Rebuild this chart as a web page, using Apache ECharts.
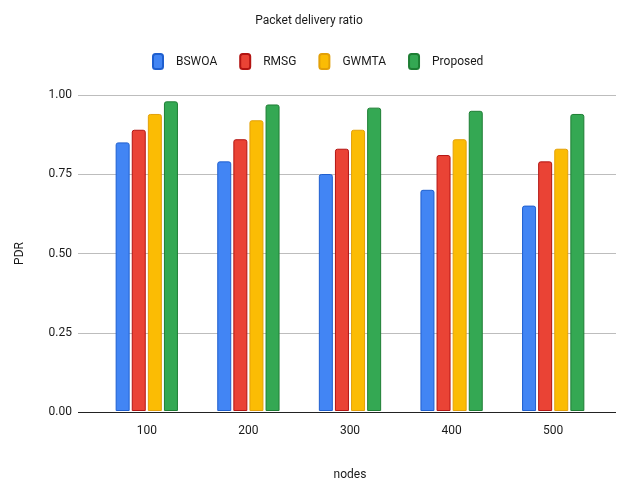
<!DOCTYPE html>
<html>
<head>
<meta charset="utf-8">
<script src="https://cdn.jsdelivr.net/npm/echarts@6/dist/echarts.min.js"></script>
<style>
  html, body { margin: 0; padding: 0; background: #fff; }
  #chart { width: 618px; height: 486px; }
</style>
</head>
<body>
<div id="chart"></div>
<script>
// Packet delivery ratio per network size
const nodes = ['100', '200', '300', '400', '500'];
const bswoa = [0.85, 0.79, 0.75, 0.70, 0.65];
const rmsg = [0.89, 0.86, 0.83, 0.81, 0.79];
const gwmta = [0.94, 0.92, 0.89, 0.86, 0.83];
const proposed = [0.98, 0.97, 0.96, 0.95, 0.94];
const yTicks = [0, 0.25, 0.5, 0.75, 1];

const font = 'Roboto, "Liberation Sans", Arial, sans-serif';

function barSeries(name, data, fill, edge) {
  return {
    name: name,
    type: 'bar',
    xAxisIndex: 1,
    yAxisIndex: 1,
    data: data,
    barWidth: 14,
    barGap: '15%',
    itemStyle: { color: fill, borderColor: edge, borderWidth: 1, borderRadius: [2, 2, 0, 0] }
  };
}

const chart = echarts.init(document.getElementById('chart'), null, { renderer: 'canvas' });
chart.setOption({
  animation: false,
  backgroundColor: '#ffffff',
  title: {
    text: 'Packet delivery ratio',
    left: 'center',
    top: 10,
    textStyle: { fontFamily: font, fontSize: 12, fontWeight: 'normal', color: '#1a1a1a' }
  },
  legend: {
    top: 48,
    left: 147,
    itemWidth: 10,
    itemHeight: 15,
    itemGap: 22,
    icon: 'roundRect',
    textStyle: { fontFamily: font, fontSize: 12, color: '#1a1a1a', padding: [0, 0, 0, 8] },
    data: ['BSWOA', 'RMSG', 'GWMTA', 'Proposed']
  },
  grid: [
    { left: 78, right: 2, top: 95, bottom: 74 },
    { left: 96, right: 14, top: 95, bottom: 74 }
  ],
  xAxis: [
    {
      gridIndex: 0,
      type: 'value',
      min: 0, max: 1,
      axisLine: { show: false },
      axisTick: { show: false },
      axisLabel: { show: false },
      splitLine: { show: false }
    },
    {
      gridIndex: 1,
      type: 'category',
      data: nodes,
      name: 'nodes',
      nameLocation: 'middle',
      nameGap: 58,
      nameTextStyle: { fontFamily: font, fontSize: 12, color: '#1a1a1a' },
      axisLine: { show: false },
      axisTick: { show: false },
      axisLabel: { fontFamily: font, fontSize: 12, color: '#1a1a1a', margin: 14 }
    }
  ],
  yAxis: [
    {
      gridIndex: 0,
      type: 'value',
      min: 0, max: 1, interval: 0.25,
      name: 'PDR',
      nameLocation: 'middle',
      nameGap: 52,
      nameTextStyle: { fontFamily: font, fontSize: 12, color: '#1a1a1a' },
      axisLine: { show: false },
      axisTick: { show: false },
      axisLabel: {
        fontFamily: font, fontSize: 12, color: '#1a1a1a', margin: 6,
        formatter: v => yTicks.indexOf(v) >= 0 ? v.toFixed(2) : ''
      },
      splitLine: {
        lineStyle: {
          width: 1,
          color: ['#222222', '#bdbdbd', '#bdbdbd', '#bdbdbd', '#bdbdbd']
        }
      }
    },
    {
      gridIndex: 1,
      type: 'value',
      min: 0, max: 1,
      show: false,
      splitLine: { show: false }
    }
  ],
  series: [
    barSeries('BSWOA', bswoa, '#4285f4', '#1f5fcf'),
    barSeries('RMSG', rmsg, '#ea4335', '#b31412'),
    barSeries('GWMTA', gwmta, '#fbbc04', '#e3a008'),
    barSeries('Proposed', proposed, '#34a853', '#1e7e34')
  ]
});
</script>
</body>
</html>
